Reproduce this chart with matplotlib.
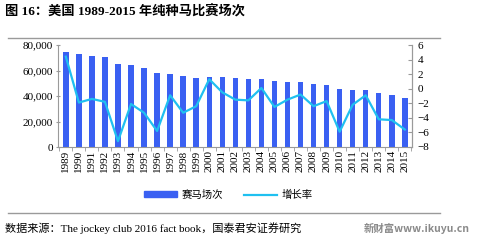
import matplotlib
matplotlib.use("Agg")
import matplotlib.pyplot as plt
from matplotlib.lines import Line2D
from matplotlib.patches import Rectangle
from matplotlib.ticker import FuncFormatter, MultipleLocator, FixedLocator
import numpy as np

plt.rcParams['font.family'] = ['Liberation Serif', 'Noto Sans CJK SC']

years = [str(y) for y in range(1989, 2016)]
races = [74200, 72900, 71300, 70500, 65200, 64400, 62000, 58000, 57200,
         55600, 54000, 54800, 54800, 54000, 53200, 53200, 51700, 51100,
         50900, 49500, 48700, 45600, 44800, 44800, 42400, 40800, 38700]
growth = [4.4, -1.9, -1.4, -1.8, -7.2, -2.1, -3.3, -5.8, -0.9,
          -3.3, -2.4, 1.3, -0.5, -1.5, -1.6, 0.1, -2.5, -1.5,
          -0.8, -2.4, -1.7, -5.9, -2.2, -0.9, -4.2, -4.3, -5.6]

bar_color = '#3A60F2'
line_color = '#1FC0F0'
grey = '#9a9a9a'

fig = plt.figure(figsize=(4.8, 2.43), dpi=100)
ax = fig.add_axes([58/480, 1-147/243, (412-58)/480, (147-45)/243])
x = np.arange(len(years))
ax.bar(x, races, width=0.42, color=bar_color, zorder=2)
ax.set_ylim(0, 80000)
ax.set_xlim(-0.6, len(years) - 0.45)
ax.yaxis.set_major_locator(MultipleLocator(20000))
ax.yaxis.set_major_formatter(FuncFormatter(lambda v, p: f"{int(v):,}"))
ax.set_xticks(x)
ax.set_xticklabels(years, rotation=90, fontsize=8)
ax.tick_params(axis='x', length=0, pad=2)
ax.xaxis.set_minor_locator(FixedLocator(np.arange(-0.5, len(years), 1.0)))
ax.tick_params(axis='x', which='minor', length=3, color=grey, direction='out')
ax.tick_params(axis='y', labelsize=8, length=3, color=grey, direction='inout', pad=2)
for s in ['top']:
    ax.spines[s].set_visible(False)
for s in ['left', 'bottom', 'right']:
    ax.spines[s].set_color(grey)
    ax.spines[s].set_linewidth(0.8)

ax2 = ax.twinx()
ax2.plot(x, growth, color=line_color, lw=1.6, zorder=3)
ax2.set_ylim(-8, 6)
ax2.yaxis.set_major_locator(MultipleLocator(2))
ax2.tick_params(axis='y', labelsize=8, length=3, color=grey, direction='in', pad=4)
ax2.spines['top'].set_visible(False)
ax2.spines['right'].set_color(grey)
ax2.spines['left'].set_visible(False)
ax2.spines['bottom'].set_visible(False)

handles = [Rectangle((0, 0), 1, 1, color=bar_color), Line2D([], [], color=line_color, lw=1.6)]
fig.legend(handles, ['赛马场次', '增长率'], loc='center', bbox_to_anchor=(228/480, 1-195/243),
           ncol=2, frameon=False, prop={'family': ['Noto Sans CJK SC'], 'size': 7.5},
           handlelength=3.2, handleheight=0.5, columnspacing=2.0, handletextpad=0.4)

fig.text(5/480, 1-12/243, '图 16：美国 1989-2015 年纯种马比赛场次', fontsize=9.5, fontweight='bold',
         va='center', ha='left')
fig.add_artist(Line2D([8/480, 440/480], [1-38/243, 1-38/243], color=grey, lw=1.0))
fig.add_artist(Line2D([8/480, 440/480], [1-213/243, 1-213/243], color=grey, lw=1.0))
fig.text(5/480, 1-228/243, '数据来源：The jockey club 2016 fact book，国泰君安证券研究', fontsize=8,
         va='center', ha='left')
fig.text(470/480, 1-228/243, '新财富www.ikuyu.cn', fontsize=7.5, fontweight='bold', color='#8a8a8a',
         va='center', ha='right', family=['Noto Sans CJK SC', 'DejaVu Sans'])

fig.savefig('out.png', dpi=100)
